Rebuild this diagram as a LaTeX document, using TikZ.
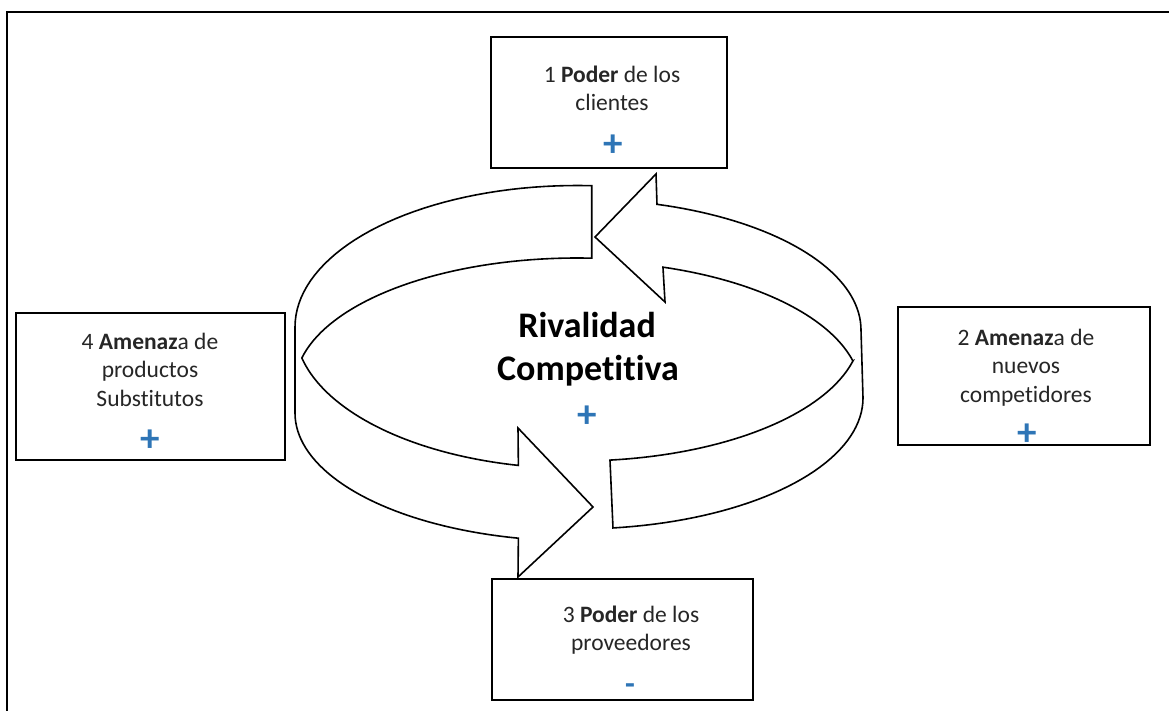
\documentclass[tikz,border=0pt]{standalone}
\usepackage{fontspec}
\setmainfont{Carlito}[Ligatures={NoCommon}]
\definecolor{plusblue}{RGB}{46,117,182}
\definecolor{txtgray}{RGB}{38,38,38}
\begin{document}
\begin{tikzpicture}[x=1pt,y=-1pt,
  boxshape/.style={draw=black, line width=1.9pt, fill=white, inner sep=0pt, rectangle},
  lbl/.style={inner sep=0pt, anchor=base, text=txtgray, font=\fontsize{23.5}{28}\selectfont},
  ttl/.style={inner sep=0pt, anchor=base, text=black, font=\fontsize{36}{43}\selectfont\bfseries},
  sign/.style={inner sep=0pt, anchor=center, text=plusblue, font=\fontsize{39}{39}\selectfont\bfseries},
  minus/.style={inner sep=0pt, anchor=center, text=plusblue, font=\fontsize{32}{32}\selectfont\bfseries},
  arrowline/.style={draw=black, line width=1.6pt, fill=white, line join=miter},
  framel/.style={draw=black, line width=1.6pt}]
\useasboundingbox (0,0) rectangle (1169,711);
\fill[white] (0,0) rectangle (1169,711);
% frame
\coordinate (fbl) at (7,711);
\coordinate (ftl) at (7,12);
\coordinate (ftr) at (1169,12);
\draw[framel] (fbl) -- (ftl) -- (ftr);

% boxes
\node[boxshape, minimum width=236pt, minimum height=131pt] (b1) at (609,102.5) {};
\node[boxshape, minimum width=252pt, minimum height=138pt] (b2) at (1024,376) {};
\node[boxshape, minimum width=261pt, minimum height=121pt] (b3) at (622.5,639.5) {};
\node[boxshape, minimum width=269pt, minimum height=147pt] (b4) at (150.5,386.5) {};

% right arrow (bottom -> right -> top, head pointing left)
\draw[arrowline]
  plot[domain=82.77:0, samples=40] ({577+286*cos(\x)},{398+131*sin(\x)})
  -- plot[domain=0:-73.64, samples=40] ({577+284*cos(\x)},{330+131*sin(\x)})
  -- (656,174) -- (595,237) -- (665,302)
  -- plot[domain=-72.38:-13.69, samples=40] ({577+284*cos(\x)},{392+131*sin(\x)})
  -- plot[domain=13.69:83.33, samples=40] ({577+284*cos(\x)},{330+131*sin(\x)})
  -- cycle;

% left arrow (top -> left -> bottom, head pointing right)
\draw[arrowline]
  plot[domain=-87:-180, samples=40] ({577+282*cos(\x)},{327+141.5*sin(\x)})
  -- plot[domain=180:102, samples=40] ({577+282*cos(\x)},{413+128*sin(\x)})
  -- (518,577) -- (593,507) -- (518,428)
  -- plot[domain=102:167.35, samples=40] ({577+282*cos(\x)},{327+141.5*sin(\x)})
  -- plot[domain=192.65:273, samples=40] ({577+282*cos(\x)},{386+128*sin(\x)})
  -- cycle;

% texts box 1
\node[lbl] (b1a) at (612,83) {1 \textbf{Poder} de los};
\node[lbl] (b1b) at (612,111) {clientes};
\node[sign] (b1s) at (613,146) {+};
% box 2
\node[lbl] (b2a) at (1026,345) {2 \textbf{Amenaz}a de};
\node[lbl] (b2b) at (1026,373) {nuevos};
\node[lbl] (b2c) at (1026,402) {competidores};
\node[sign] (b2s) at (1027,435) {+};
% box 3
\node[lbl] (b3a) at (631,622) {3 \textbf{Poder} de los};
\node[lbl] (b3b) at (631,650) {proveedores};
\node[minus] (b3s) at (630,689) {-};
% box 4
\node[lbl] (b4a) at (150,349) {4 \textbf{Amenaz}a de};
\node[lbl] (b4b) at (150,377) {productos};
\node[lbl] (b4c) at (150,406) {Substitutos};
\node[sign] (b4s) at (150,441) {+};
% title
\node[ttl] (t1) at (587,337) {Rivalidad};
\node[ttl] (t2) at (588,380) {Competitiva};
\node[sign] (ts) at (587,417) {+};
\end{tikzpicture}
\end{document}
